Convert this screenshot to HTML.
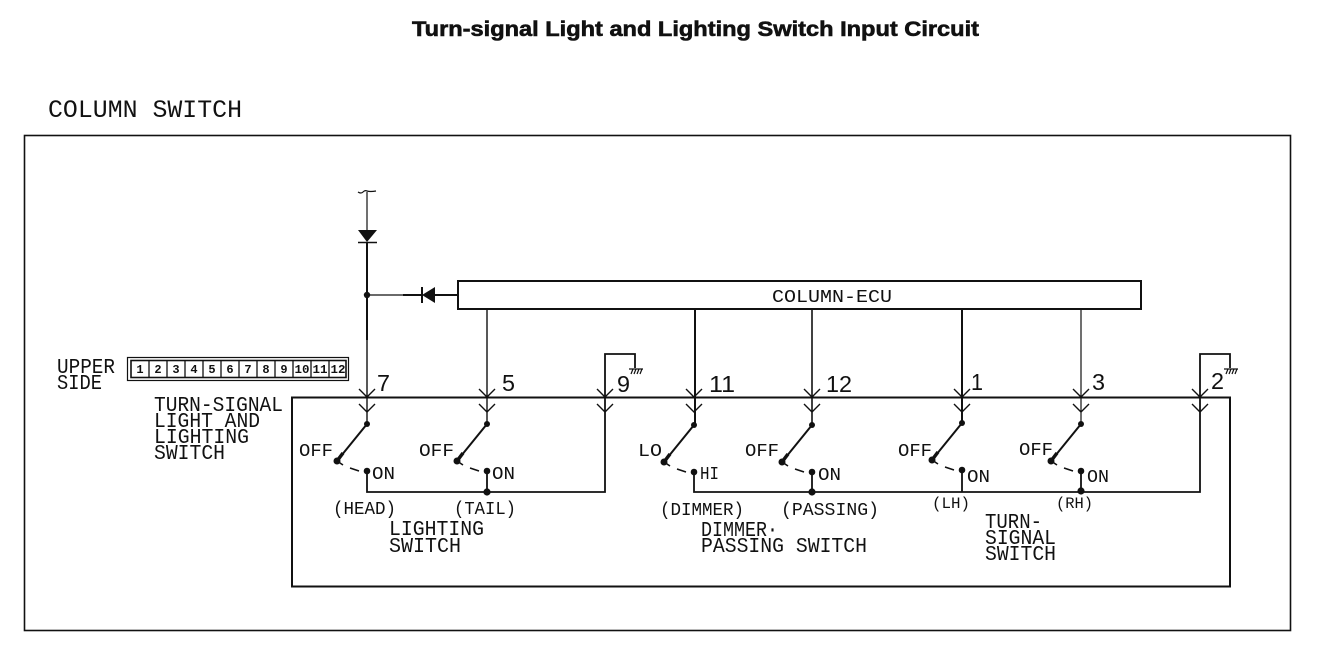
<!DOCTYPE html>
<html>
<head>
<meta charset="utf-8">
<title>Turn-signal Light and Lighting Switch Input Circuit</title>
<style>
html,body{margin:0;padding:0;background:#fff;}
svg{display:block;}
text{fill:#111;font-family:"Liberation Mono",monospace;}
.n{font-family:"Liberation Sans",sans-serif;font-size:23px;}
.s{font-size:18px;}
.m{font-size:21px;}
</style>
</head>
<body>
<svg xmlns="http://www.w3.org/2000/svg" width="1344" height="664" viewBox="0 0 1344 664">
<defs>
<g id="chev" fill="none" stroke="#111" stroke-width="1.4">
<path d="M-8 389L0 397L8 389M-8 404L0 412L8 404"/>
</g>
<g id="sw" stroke="#111" fill="none">
<path d="M0 0L-26 32" stroke-width="2"/>
<path d="M-24 29L-30 37" stroke-width="3.5"/>
<path d="M-30 37L-24 41M-17 44L-8 47" stroke-width="1.6"/>
<circle cx="0" cy="0" r="3" fill="#111" stroke="none"/>
<circle cx="-30" cy="37" r="3.5" fill="#111" stroke="none"/>
<circle cx="0" cy="47" r="3.3" fill="#111" stroke="none"/>
</g>
<g id="gnd" stroke="#111" fill="none" stroke-width="1.2">
<path d="M-6 0H8M-4 5L-2 0M-1 5L1 0M2 5L4 0M5 5L7 0"/>
</g>
</defs>

<text x="412" y="36" font-size="21" font-weight="bold" stroke="#111" stroke-width="0.6" style="font-family:'Liberation Sans',sans-serif" textLength="567" lengthAdjust="spacingAndGlyphs">Turn-signal Light and Lighting Switch Input Circuit</text>
<text x="48" y="117" font-size="25" textLength="194" lengthAdjust="spacingAndGlyphs">COLUMN SWITCH</text>

<rect x="24.5" y="135.5" width="1266" height="495" fill="none" stroke="#111" stroke-width="1.6"/>
<rect x="292" y="397.5" width="938" height="189" fill="none" stroke="#111" stroke-width="2"/>
<rect x="458" y="281" width="683" height="28" fill="none" stroke="#111" stroke-width="2"/>
<text x="772" y="302" font-size="18" textLength="120" lengthAdjust="spacingAndGlyphs">COLUMN-ECU</text>

<!-- top feed -->
<g fill="none" stroke="#111">
<path d="M358 192Q361 194 363 192Q365 190 367 191Q370 192 376 191" stroke-width="1.2"/>
<path d="M367 192V230" stroke-width="1.2"/>
<path d="M367 242V340" stroke-width="2"/>
<path d="M367 340V424" stroke-width="1.4"/>
<path d="M358 242.5H377" stroke-width="1.5"/>
<path d="M367 295H403" stroke-width="1.2"/>
<path d="M403 295H422M435 295H458" stroke-width="2"/>
<path d="M422 287V303" stroke-width="2"/>
<path d="M487 309V424" stroke-width="1.4"/>
<path d="M695 309V425" stroke-width="2"/>
<path d="M812 309V425" stroke-width="1.6"/>
<path d="M962 309V423" stroke-width="2"/>
<path d="M1081 309V424" stroke-width="1.2"/>
<!-- bottom buses -->
<path d="M367 471V492H605V354H635V368" stroke-width="1.8"/>
<path d="M694 471V492H1200V354H1230V368" stroke-width="1.8"/>
<path d="M487 471V492M812 471V492M962 470V492M1081 470V492" stroke-width="1.8"/>
</g>
<path d="M358 230H377L367 242Z" fill="#111"/>
<path d="M422 295L435 287V303Z" fill="#111"/>
<circle cx="367" cy="295" r="3.2" fill="#111"/>
<circle cx="487" cy="492" r="3.6" fill="#111"/>
<circle cx="812" cy="492" r="3.6" fill="#111"/>
<circle cx="1081" cy="491" r="3.6" fill="#111"/>

<use href="#gnd" x="635" y="369"/>
<use href="#gnd" x="1230" y="369"/>

<use href="#chev" x="367"/>
<use href="#chev" x="487"/>
<use href="#chev" x="605"/>
<use href="#chev" x="694"/>
<use href="#chev" x="812"/>
<use href="#chev" x="962"/>
<use href="#chev" x="1081"/>
<use href="#chev" x="1200"/>

<use href="#sw" x="367" y="424"/>
<use href="#sw" x="487" y="424"/>
<use href="#sw" x="694" y="425"/>
<use href="#sw" x="812" y="425"/>
<use href="#sw" x="962" y="423"/>
<use href="#sw" x="1081" y="424"/>

<!-- connector -->
<rect x="127.5" y="357.5" width="221" height="23" fill="none" stroke="#111" stroke-width="1.2"/>
<rect x="131" y="360.5" width="215" height="17" fill="none" stroke="#111" stroke-width="1.6"/>
<path d="M149 360V378M167 360V378M185 360V378M203 360V378M221 360V378M239 360V378M257 360V378M275 360V378M293 360V378M311 360V378M329 360V378" stroke="#111" stroke-width="1.3"/>
<g font-size="12" text-anchor="middle" font-weight="bold">
<text x="140" y="373">1</text><text x="158" y="373">2</text><text x="176" y="373">3</text><text x="194" y="373">4</text><text x="212" y="373">5</text><text x="230" y="373">6</text><text x="248" y="373">7</text><text x="266" y="373">8</text><text x="284" y="373">9</text>
<text x="302" y="373" textLength="15" lengthAdjust="spacingAndGlyphs">10</text><text x="320" y="373" textLength="15" lengthAdjust="spacingAndGlyphs">11</text><text x="338" y="373" textLength="15" lengthAdjust="spacingAndGlyphs">12</text>
</g>

<text class="m" x="57" y="373" textLength="58" lengthAdjust="spacingAndGlyphs">UPPER</text>
<text class="m" x="57" y="389" textLength="45" lengthAdjust="spacingAndGlyphs">SIDE</text>
<text class="m" x="154" y="411" textLength="129" lengthAdjust="spacingAndGlyphs">TURN-SIGNAL</text>
<text class="m" x="154" y="427" textLength="106" lengthAdjust="spacingAndGlyphs">LIGHT AND</text>
<text class="m" x="154" y="443" textLength="95" lengthAdjust="spacingAndGlyphs">LIGHTING</text>
<text class="m" x="154" y="459" textLength="71" lengthAdjust="spacingAndGlyphs">SWITCH</text>

<!-- pin numbers -->
<text class="n" x="377" y="391" textLength="13" lengthAdjust="spacingAndGlyphs">7</text>
<text class="n" x="502" y="391" textLength="13" lengthAdjust="spacingAndGlyphs">5</text>
<text class="n" x="617" y="392" textLength="13" lengthAdjust="spacingAndGlyphs">9</text>
<text class="n" x="709" y="392" textLength="26" lengthAdjust="spacingAndGlyphs">11</text>
<text class="n" x="826" y="392" textLength="26" lengthAdjust="spacingAndGlyphs">12</text>
<text class="n" x="971" y="390" textLength="12" lengthAdjust="spacingAndGlyphs">1</text>
<text class="n" x="1092" y="390" textLength="13" lengthAdjust="spacingAndGlyphs">3</text>
<text class="n" x="1211" y="389" textLength="13" lengthAdjust="spacingAndGlyphs">2</text>

<!-- switch labels -->
<text class="s" x="299" y="456" textLength="34" lengthAdjust="spacingAndGlyphs">OFF</text>
<text class="s" x="419" y="456" textLength="35" lengthAdjust="spacingAndGlyphs">OFF</text>
<text class="s" x="638" y="456" textLength="24" lengthAdjust="spacingAndGlyphs">LO</text>
<text class="s" x="745" y="456" textLength="34" lengthAdjust="spacingAndGlyphs">OFF</text>
<text class="s" x="898" y="456" textLength="34" lengthAdjust="spacingAndGlyphs">OFF</text>
<text class="s" x="1019" y="455" textLength="34" lengthAdjust="spacingAndGlyphs">OFF</text>
<text class="s" x="372" y="479" textLength="23" lengthAdjust="spacingAndGlyphs">ON</text>
<text class="s" x="492" y="479" textLength="23" lengthAdjust="spacingAndGlyphs">ON</text>
<text class="s" x="700" y="479" textLength="19" lengthAdjust="spacingAndGlyphs">HI</text>
<text class="s" x="818" y="480" textLength="23" lengthAdjust="spacingAndGlyphs">ON</text>
<text class="s" x="967" y="482" textLength="23" lengthAdjust="spacingAndGlyphs">ON</text>
<text class="s" x="1087" y="482" textLength="22" lengthAdjust="spacingAndGlyphs">ON</text>

<text class="s" x="333" y="514" textLength="63" lengthAdjust="spacingAndGlyphs">(HEAD)</text>
<text class="s" x="454" y="514" textLength="62" lengthAdjust="spacingAndGlyphs">(TAIL)</text>
<text class="s" x="660" y="515" textLength="84" lengthAdjust="spacingAndGlyphs">(DIMMER)</text>
<text class="s" x="781" y="515" textLength="98" lengthAdjust="spacingAndGlyphs">(PASSING)</text>
<text x="932" y="508" font-size="16" textLength="38" lengthAdjust="spacingAndGlyphs">(LH)</text>
<text x="1056" y="508" font-size="16" textLength="37" lengthAdjust="spacingAndGlyphs">(RH)</text>

<text class="m" x="389" y="535" textLength="95" lengthAdjust="spacingAndGlyphs">LIGHTING</text>
<text class="m" x="389" y="552" textLength="72" lengthAdjust="spacingAndGlyphs">SWITCH</text>
<text class="m" x="701" y="536" textLength="77" lengthAdjust="spacingAndGlyphs">DIMMER·</text>
<text class="m" x="701" y="552" textLength="166" lengthAdjust="spacingAndGlyphs">PASSING SWITCH</text>
<text class="m" x="985" y="528" textLength="57" lengthAdjust="spacingAndGlyphs">TURN-</text>
<text class="m" x="985" y="544" textLength="71" lengthAdjust="spacingAndGlyphs">SIGNAL</text>
<text class="m" x="985" y="560" textLength="71" lengthAdjust="spacingAndGlyphs">SWITCH</text>
</svg>
</body>
</html>
